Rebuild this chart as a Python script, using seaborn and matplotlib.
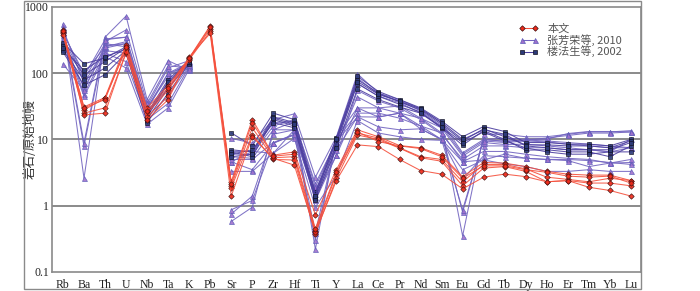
import numpy as np
import pandas as pd
import matplotlib
matplotlib.use("Agg")
import matplotlib.pyplot as plt
from matplotlib.lines import Line2D
from matplotlib.patches import Rectangle
import seaborn as sns

nan = np.nan
elements = ["Rb", "Ba", "Th", "U", "Nb", "Ta", "K", "Pb", "Sr", "P", "Zr", "Hf", "Ti", "Y",
            "La", "Ce", "Pr", "Nd", "Sm", "Eu", "Gd", "Tb", "Dy", "Ho", "Er", "Tm", "Yb", "Lu"]

# 本文 (red diamonds)
benwen = [
    [420, 31, 43, 270, 30, 65, 170, 520, 2.3, 20, 5.8, 6.5, 0.73, 3.5, 14, 11, 8.1, 7.5, 5.8, 2.75, 4.5, 4.4, 3.9, 3.3, 3.0, 2.9, 2.9, 2.4],
    [400, 28, 42, 230, 25, 55, 165, 470, 2.0, 15, 5.3, 5.5, 0.42, 3.0, 12.5, 10.5, 7.5, 5.5, 5.0, 2.3, 4.2, 4.2, 3.6, 2.7, 2.5, 2.3, 2.6, 2.4],
    [380, 25, 30, 200, 22, 45, 160, 430, 1.85, 11.7, 5.0, 4.9, 0.38, 2.6, 11.7, 10, 7.4, 5.3, 4.7, 2.0, 3.7, 3.9, 3.3, 2.3, 2.4, 2.2, 2.2, 2.0],
    [450, 23.5, 25, 210, 20, 40, 175, 400, 1.4, 11, 5.2, 4.1, 0.40, 2.4, 8.3, 7.8, 5.0, 3.4, 3.0, 1.8, 2.7, 3.0, 2.75, 2.3, 2.4, 1.9, 1.7, 1.4],
    [430, 30, 40, 250, 27, 60, 168, 500, 2.15, 18, 5.6, 6.0, 0.45, 3.2, 13, 9.3, 8.0, 7.3, 5.5, 2.6, 4.0, 4.0, 3.5, 3.2, 2.8, 2.7, 2.8, 2.2],
]

# 张芳荣等, 2010 (purple triangles)
zhang2010 = [
    [553, 2.6, 350, 730, 40, 155, 110, nan, 0.58, 0.95, 14, 18.6, 0.22, 11, 30, 30, 25, 21, 15, 0.35, 12, 12, 11, 11, 12, 13, 13, 13.6],
    [450, 7.9, 300, 450, 35, 130, 120, nan, 0.75, 1.4, 12, 14, 0.39, 10, 25, 25, 21, 16, 12.6, 0.8, 10, 10.5, 10.1, 10.1, 12.3, 13.2, 13.2, 13],
    [500, 8.9, 330, 350, 30, 100, 130, nan, 0.87, 1.2, 8.8, 12, 0.3, 9.3, 22, 21.8, 25, 14.5, 10, 0.87, 10, 9.4, 9.8, 10.5, 11.5, 12.5, 12.5, 13],
    [400, 100, 250, 300, 30, 90, 150, nan, 10.4, 8.8, 20, 24.4, 2.7, 11, 98, 50, 40, 29, 18, 6.3, 10, 9.4, 9.8, 9.5, 9, 8.5, 8, 7.5],
    [350, 80, 280, 250, 25, 70, 140, nan, 6.6, 6.6, 18, 18.6, 2.15, 9.3, 70, 45, 36, 25, 15, 5.6, 9, 8.4, 8.5, 8, 7.5, 7, 6.5, 10],
    [300, 60, 220, 200, 22, 45, 130, nan, 5.5, 5.2, 14, 14, 1.7, 8, 44, 30, 32, 21, 12.6, 4.6, 6.6, 6.6, 6, 5.5, 5.2, 5.0, 4.4, 4.5],
    [380, 49, 200, 150, 20, 35, 125, nan, 4.6, 3.5, 8.8, 11.7, 1.37, 5.8, 30, 21.8, 25, 16, 10, 2.5, 5.7, 5.5, 5.2, 5.0, 5.0, 4.8, 4.5, 4.2],
    [320, 45, 180, 120, 17, 30, 115, nan, 3.3, 3.3, 6.2, 10.4, 0.95, 2.9, 19.3, 12.5, 11, 10, 9.7, 3.5, 4.9, 4.3, 3.9, 3.3, 3.3, 3.5, 3.3, 3.3],
    [420, 90, 320, 350, 28, 100, 145, nan, 6.0, 6.0, 16, 20, 1.9, 10, 85, 48, 38, 27, 16, 6.0, 9.5, 9.0, 9.5, 9.2, 8.5, 8, 7.5, 7.5],
    [138, 55, 260, 280, 24, 60, 135, nan, 5.0, 5.0, 9, 12, 1.5, 7, 22, 15.5, 14, 14.5, 10, 4.6, 4.9, 6, 5.2, 5.0, 4.8, 3.9, 4.4, 5.0],
    [470, 70, 240, 280, 32, 120, 155, nan, 4.6, 6.6, 6.2, 14, 1.2, 5.8, 55, 38, 30, 20, 12, 5.0, 8, 8, 7.5, 7.5, 7, 7.0, 6.5, 7.5],
]

# 楼法生等, 2002 (dark squares)
lou2002 = [
    [290, 139, 170, 250, 25, 80, 155, nan, 12.6, 8.0, 25, 20, 1.6, 10.6, 90, 53, 40, 30, 19, 11, 15.7, 13.2, 9, 9, 8.5, 8.5, 8, 10],
    [260, 94, 150, 240, 22, 70, 150, nan, 7.0, 6.5, 22, 18, 1.5, 9.5, 80, 50, 37, 28, 17, 9.5, 14.5, 11, 8.3, 8.3, 8, 8, 7.5, 9.5],
    [224, 79, 120, 220, 20, 60, 145, nan, 6.5, 5.5, 20, 16, 1.3, 8.5, 70, 45, 34, 26, 15, 8.2, 13.6, 10, 6.9, 7, 6.5, 6.5, 5.5, 8],
    [210, 66, 95, 200, 18, 50, 140, nan, 6.0, 7.0, 18, 15, 1.2, 7.5, 58, 40, 31, 25, 15.5, 9.0, 13.0, 9.5, 7.5, 6.5, 6, 6, 6.5, 6.5],
    [240, 110, 178, 230, 23, 75, 150, nan, 5.5, 6.0, 21, 17, 1.4, 10, 75, 48, 38, 29, 18, 10, 14, 12, 8, 7.5, 7, 7, 7, 9],
]

labels = ["本文", "张芳荣等, 2010", "楼法生等, 2002"]


def to_long(samples):
    # split each sample at missing values so the line breaks there
    rows = []
    for i, s in enumerate(samples):
        seg = 0
        for j, v in enumerate(s):
            if np.isnan(v):
                seg += 1
                continue
            rows.append({"pos": j, "value": v, "unit": f"{i}_{seg}"})
    return pd.DataFrame(rows)


sns.set_style("white")
plt.rcParams["font.family"] = ["Liberation Serif", "Noto Sans CJK SC"]

fig = plt.figure(figsize=(7, 2.91), dpi=100)
ax = fig.add_axes([0.0743, 0.0653, 0.8414, 0.9107])

styles = [
    dict(color="#f5503c", marker="D", ms=2.8, mfc="#ee2a1a", mec="#3a1010", mew=0.5, lw=0.75),
    dict(color="#7264c0", marker="^", ms=3.6, mfc="#a070cc", mec="#5a5ab8", mew=0.5, lw=0.75),
    dict(color="#4c3ea0", marker="s", ms=3.0, mfc="#2c3a78", mec="#101020", mew=0.5, lw=0.75),
]

for samples, st in zip([zhang2010, lou2002, benwen], [styles[1], styles[2], styles[0]]):
    df = to_long(samples)
    sns.lineplot(data=df, x="pos", y="value", units="unit", estimator=None, ax=ax,
                 color=st["color"], lw=st["lw"], marker=st["marker"], markersize=st["ms"],
                 markerfacecolor=st["mfc"], markeredgecolor=st["mec"], markeredgewidth=st["mew"],
                 alpha=0.9, legend=False)

ax.set_yscale("log")
ax.set_ylim(0.1, 1000)
ax.set_xlim(-0.52, 27.48)
ax.set_xticks(range(len(elements)))
ax.set_xticklabels(elements, fontsize=8.5, color="#222222")
ax.set_yticks([0.1, 1, 10, 100, 1000])
ax.set_yticklabels(["0.1", "1", "10", "100", "1000"], fontsize=8.5, color="#222222")
ax.yaxis.set_minor_locator(matplotlib.ticker.NullLocator())
ax.tick_params(axis="x", direction="in", length=3, width=0.8, color="#777777", pad=5)
ax.tick_params(axis="y", length=0, pad=2)
ax.set_xlabel("")
ax.set_ylabel("岩石/原始地幔", fontsize=9, family=["Noto Sans CJK SC"], color="#333333")
ax.yaxis.set_label_coords(-0.026, 0.5)
for y in [1, 10, 100]:
    ax.axhline(y, color="#8a8a8a", lw=1.4, zorder=0)
for sp in ax.spines.values():
    sp.set_color("#8a8a8a")
    sp.set_linewidth(1.2)

handles = [Line2D([0], [0], color=st["color"], lw=st["lw"], marker=st["marker"], markersize=st["ms"],
                  markerfacecolor=st["mfc"], markeredgecolor=st["mec"], markeredgewidth=st["mew"])
           for st in styles]
leg = ax.legend(handles, labels, loc="upper right", bbox_to_anchor=(0.985, 0.975), frameon=False,
                numpoints=2, handlelength=1.8, labelspacing=0.0, handletextpad=0.8,
                prop={"family": ["Noto Sans CJK SC"], "size": 8})
for t in leg.get_texts():
    t.set_color("#555555")

fig.patches.append(Rectangle((24 / 700, 2 / 291), (641 - 24) / 700, 288 / 291, transform=fig.transFigure,
                             fill=False, edgecolor="#8a8a8a", lw=1.0))

fig.savefig("out.png", dpi=100)
